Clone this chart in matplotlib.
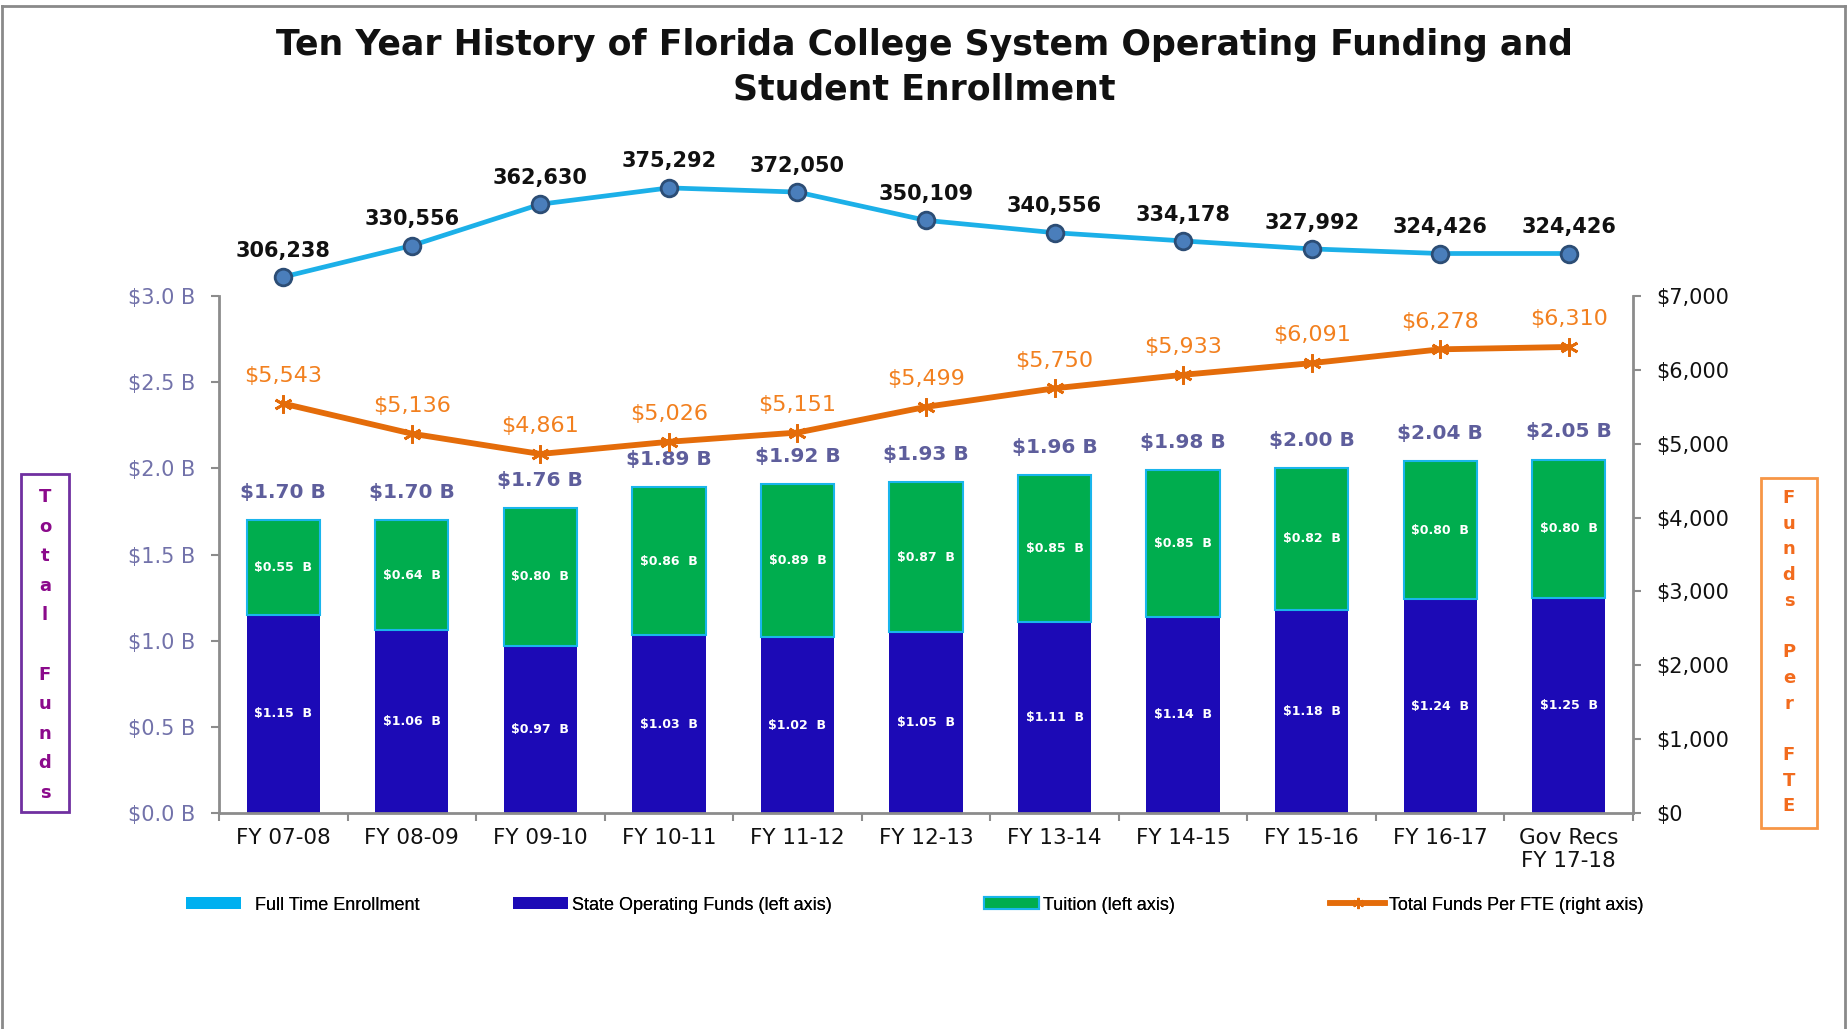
import matplotlib
matplotlib.use("Agg")
import matplotlib.pyplot as plt
import numpy as np
from matplotlib.patches import Rectangle, Patch
from matplotlib.lines import Line2D

# ---------------- data ----------------
categories = ["FY 07-08", "FY 08-09", "FY 09-10", "FY 10-11", "FY 11-12", "FY 12-13",
              "FY 13-14", "FY 14-15", "FY 15-16", "FY 16-17", "Gov Recs\nFY 17-18"]
state_funds = [1.15, 1.06, 0.97, 1.03, 1.02, 1.05, 1.11, 1.14, 1.18, 1.24, 1.25]
tuition = [0.55, 0.64, 0.80, 0.86, 0.89, 0.87, 0.85, 0.85, 0.82, 0.80, 0.80]
total_funds = [1.70, 1.70, 1.76, 1.89, 1.92, 1.93, 1.96, 1.98, 2.00, 2.04, 2.05]
funds_per_fte = [5543, 5136, 4861, 5026, 5151, 5499, 5750, 5933, 6091, 6278, 6310]
enrollment = [306238, 330556, 362630, 375292, 372050, 350109, 340556, 334178, 327992, 324426, 324426]
left_ticks = [0.0, 0.5, 1.0, 1.5, 2.0, 2.5, 3.0]
right_ticks = [0, 1000, 2000, 3000, 4000, 5000, 6000, 7000]

title = "Ten Year History of Florida College System Operating Funding and\nStudent Enrollment"
left_label = "Total Funds"
right_label = "Funds Per FTE"

# ---------------- styling ----------------
W, H = 1849, 1029
C_STATE = "#1C0AB6"
C_TUIT = "#00AD4E"
C_TUIT_EDGE = "#19B5EC"
C_ENR = "#1CB0E8"
C_FTE = "#E46C0A"
C_FTE_TXT = "#F2801F"
C_TOT = "#5E5E9C"
C_LTICK = "#7272AA"
C_AX = "#8C8C8C"

fig = plt.figure(figsize=(W / 100, H / 100), dpi=100)
fig.patch.set_facecolor("white")

def fx(px):
    return px / W

def fy(py):
    return 1 - py / H

left_px, right_px, top_px, bot_px = 219, 1633, 296, 813
ax = fig.add_axes([fx(left_px), fy(bot_px), fx(right_px - left_px), (bot_px - top_px) / H])
x = np.arange(len(categories))

ax.bar(x, state_funds, width=0.57, color=C_STATE, zorder=2)
ax.bar(x, tuition, width=0.57, bottom=state_funds, color=C_TUIT,
       edgecolor=C_TUIT_EDGE, linewidth=1.5, zorder=2)

for i in range(len(x)):
    ax.text(x[i], state_funds[i] / 2, f"${state_funds[i]:.2f}  B", ha="center", va="center",
            color="white", fontsize=9, fontweight="bold", zorder=3)
    ax.text(x[i], state_funds[i] + tuition[i] / 2, f"${tuition[i]:.2f}  B", ha="center",
            va="center", color="white", fontsize=9, fontweight="bold", zorder=3)
    ax.annotate(f"${total_funds[i]:.2f} B", (x[i], state_funds[i] + tuition[i]),
                xytext=(0, 20), textcoords="offset points", ha="center", va="center",
                color=C_TOT, fontsize=14.5, fontweight="bold", zorder=3)

ax.set_xlim(-0.5, len(categories) - 0.5)
ax.set_ylim(0, 3.0)
ax.set_yticks(left_ticks)
ax.set_yticklabels([f"${v:.1f} B" for v in left_ticks])
ax.tick_params(axis="y", direction="out", length=6, width=1.5, color=C_AX,
               labelcolor=C_LTICK, labelsize=15, pad=11)
ax.set_xticks(np.arange(-0.5, len(categories), 1.0))
ax.set_xticklabels([])
ax.set_xticks(x, minor=True)
ax.set_xticklabels(categories, minor=True)
ax.tick_params(axis="x", which="major", direction="out", length=6, width=1.5, color=C_AX)
ax.tick_params(axis="x", which="minor", length=0, labelsize=15.5, pad=11, labelcolor="#111111")
for s in ["top", "right"]:
    ax.spines[s].set_visible(False)
for s in ["left", "bottom"]:
    ax.spines[s].set_color(C_AX)
    ax.spines[s].set_linewidth(2)
ax.patch.set_alpha(0)

ax2 = ax.twinx()
ax2.set_ylim(0, 7000)
ax2.set_yticks(right_ticks)
ax2.set_yticklabels([f"${v:,}" for v in right_ticks])
ax2.tick_params(axis="y", direction="out", length=6, width=1.5, color=C_AX,
                labelcolor="#111111", labelsize=15, pad=11)
for s in ["top", "left", "bottom"]:
    ax2.spines[s].set_visible(False)
ax2.spines["right"].set_color(C_AX)
ax2.spines["right"].set_linewidth(2)
ax2.plot(x, funds_per_fte, color=C_FTE, lw=4.2, marker=(6, 2, 0), markersize=13,
         markeredgewidth=2, markeredgecolor=C_FTE, zorder=4)
for i in range(len(x)):
    ax2.annotate(f"${funds_per_fte[i]:,}", (x[i], funds_per_fte[i]), xytext=(0, 20),
                 textcoords="offset points", ha="center", va="center", color=C_FTE_TXT,
                 fontsize=16)

# enrollment on its own hidden scale spanning the figure height
axe = fig.add_axes([fx(left_px), 0, fx(right_px - left_px), 1])
axe.set_xlim(-0.5, len(categories) - 0.5)
axe.set_ylim(-276733, 520941)
axe.axis("off")
axe.plot(x, enrollment, color=C_ENR, lw=3.4, marker="o", markersize=12,
         markerfacecolor="#4A7EBB", markeredgecolor="#2C4D75", markeredgewidth=2, zorder=5)
for i in range(len(x)):
    axe.annotate(f"{enrollment[i]:,}", (x[i], enrollment[i]), xytext=(0, 19),
                 textcoords="offset points", ha="center", va="center", color="#111111",
                 fontsize=15, fontweight="bold")

# title (two lines placed individually)
for line, yp in zip(title.split("\n"), [45, 90]):
    fig.text(0.5, fy(yp), line, ha="center", va="center", fontsize=25, fontweight="bold",
             color="#111111")

# side labels in boxes
fig.patches.append(Rectangle((fx(21), fy(812)), fx(48), (812 - 474) / H, transform=fig.transFigure,
                             fill=False, edgecolor="#7030A0", linewidth=2))
for k, ch in enumerate(left_label):
    fig.text(fx(45), fy(497 + 29.6 * k), ch, ha="center", va="center", color="#8B0A8B",
             fontsize=13, fontweight="bold")
fig.patches.append(Rectangle((fx(1761), fy(828)), fx(56), (828 - 478) / H, transform=fig.transFigure,
                             fill=False, edgecolor="#F79646", linewidth=2))
for k, ch in enumerate(right_label):
    fig.text(fx(1789), fy(498 + 25.7 * k), ch, ha="center", va="center", color="#F26B1D",
             fontsize=13, fontweight="bold")

# legend
leg_items = [
    (Patch(facecolor="#00B0F0", edgecolor="none"), "Full Time Enrollment", 186, 0.75),
    (Patch(facecolor=C_STATE, edgecolor="none"), "State Operating Funds (left axis)", 513, 0.2),
    (Patch(facecolor=C_TUIT, edgecolor=C_TUIT_EDGE, linewidth=1.5), "Tuition (left axis)", 984, 0.2),
    (Line2D([], [], color=C_FTE, lw=4, marker=(6, 2, 0), markersize=8, markeredgewidth=1.5),
     "Total Funds Per FTE (right axis)", 1330, 0.2),
]
for h, lab, xp, tp in leg_items:
    lg = fig.legend([h], [lab], loc="center left", bbox_to_anchor=(fx(xp), fy(905)),
                    frameon=False, borderaxespad=0, borderpad=0, handlelength=3.05,
                    handleheight=0.6, handletextpad=tp,
                    prop={"family": "Liberation Sans", "size": 13})
    fig.add_artist(lg)

# outer border
for xs, ys in [((2, 2), (6, H)), ((2, 1845), (6, 6)), ((1845, 1845), (6, H))]:
    fig.add_artist(Line2D([fx(xs[0]), fx(xs[1])], [fy(ys[0]), fy(ys[1])],
                          transform=fig.transFigure, color="#8A8A8A", lw=2))

fig.savefig("out.png", dpi=100)
